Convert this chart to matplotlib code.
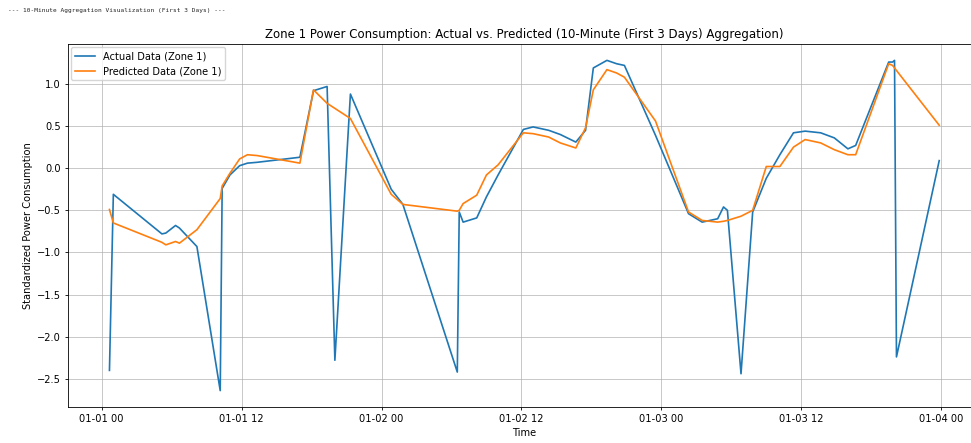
import pandas as pd
import matplotlib
matplotlib.use("Agg")
import matplotlib.pyplot as plt
import matplotlib.dates as mdates

# timestamps of the 10-minute aggregated points (first 3 days)
times = [
    "2017-01-01 00:40", "2017-01-01 01:00", "2017-01-01 05:10", "2017-01-01 05:30",
    "2017-01-01 06:20", "2017-01-01 06:40", "2017-01-01 08:10", "2017-01-01 10:10",
    "2017-01-01 10:20", "2017-01-01 11:00", "2017-01-01 11:50", "2017-01-01 12:30",
    "2017-01-01 13:20", "2017-01-01 17:00", "2017-01-01 18:10", "2017-01-01 19:20",
    "2017-01-01 20:00", "2017-01-01 21:20", "2017-01-02 00:50", "2017-01-02 01:50",
    "2017-01-02 06:30", "2017-01-02 06:40", "2017-01-02 07:00", "2017-01-02 08:10",
    "2017-01-02 09:00", "2017-01-02 10:00", "2017-01-02 12:10", "2017-01-02 13:00",
    "2017-01-02 14:20", "2017-01-02 15:20", "2017-01-02 16:40", "2017-01-02 17:30",
    "2017-01-02 18:10", "2017-01-02 19:20", "2017-01-02 20:10", "2017-01-02 20:50",
    "2017-01-02 23:30", "2017-01-03 02:20", "2017-01-03 03:30", "2017-01-03 04:50",
    "2017-01-03 05:20", "2017-01-03 05:40", "2017-01-03 06:50", "2017-01-03 07:50",
    "2017-01-03 09:00", "2017-01-03 10:10", "2017-01-03 11:20", "2017-01-03 12:20",
    "2017-01-03 13:40", "2017-01-03 14:50", "2017-01-03 16:00", "2017-01-03 16:40",
    "2017-01-03 19:30", "2017-01-03 19:50", "2017-01-03 20:00", "2017-01-03 20:10",
    "2017-01-03 23:50",
]

actual = [
    -2.40, -0.31, -0.78, -0.77, -0.68, -0.71, -0.93, -2.64,
    -0.24, -0.08, 0.03, 0.06, 0.07, 0.13, 0.92, 0.97,
    -2.28, 0.88, -0.25, -0.43, -2.42, -0.52, -0.64, -0.59,
    -0.34, -0.08, 0.46, 0.49, 0.45, 0.40, 0.31, 0.45,
    1.19, 1.28, 1.24, 1.22, 0.39, -0.54, -0.64, -0.60,
    -0.46, -0.50, -2.44, -0.52, -0.12, 0.16, 0.42, 0.44,
    0.42, 0.36, 0.23, 0.27, 1.26, 1.26, 1.28, -2.24,
    0.09,
]

predicted = [
    -0.49, -0.65, -0.88, -0.91, -0.87, -0.89, -0.73, -0.36,
    -0.21, -0.06, 0.11, 0.16, 0.15, 0.06, 0.93, 0.77,
    0.71, 0.59, -0.31, -0.43, -0.51, -0.50, -0.42, -0.32,
    -0.08, 0.04, 0.42, 0.41, 0.37, 0.30, 0.24, 0.48,
    0.93, 1.17, 1.13, 1.08, 0.56, -0.52, -0.62, -0.64,
    -0.63, -0.62, -0.57, -0.50, 0.02, 0.02, 0.25, 0.34,
    0.30, 0.22, 0.16, 0.16, 1.24, 1.22, 1.19, 1.16,
    0.51,
]

t = pd.to_datetime(times)

fig = plt.figure(figsize=(9.71, 4.43), dpi=100)
fig.text(0.008, 0.977, "--- 10-Minute Aggregation Visualization (First 3 Days) ---",
         family="DejaVu Sans Mono", fontsize=4.4, va="center", color="#222222")

ax = fig.add_axes([0.070, 0.081, 0.940, 0.820])
ax.plot(t, actual, color="#1f77b4", lw=1.2, label="Actual Data (Zone 1)")
ax.plot(t, predicted, color="#ff7f0e", lw=1.2, label="Predicted Data (Zone 1)")

ax.xaxis.set_major_locator(mdates.HourLocator(byhour=[0, 12]))
ax.xaxis.set_major_formatter(mdates.DateFormatter("%m-%d %H"))
ax.set_title("Zone 1 Power Consumption: Actual vs. Predicted (10-Minute (First 3 Days) Aggregation)",
             fontsize=8.5, pad=4.5)
ax.set_xlabel("Time", fontsize=7.1, labelpad=2.8)
ax.set_ylabel("Standardized Power Consumption", fontsize=7.1, labelpad=2.8)
ax.tick_params(labelsize=7.1, length=2.5, width=0.6, pad=2.5)
for s in ax.spines.values():
    s.set_linewidth(0.6)
ax.grid(True, color="#b0b0b0", lw=0.7, alpha=0.7)
ax.legend(loc="upper left", fontsize=7.1, borderaxespad=0.35)

fig.savefig("out.png", dpi=100)
